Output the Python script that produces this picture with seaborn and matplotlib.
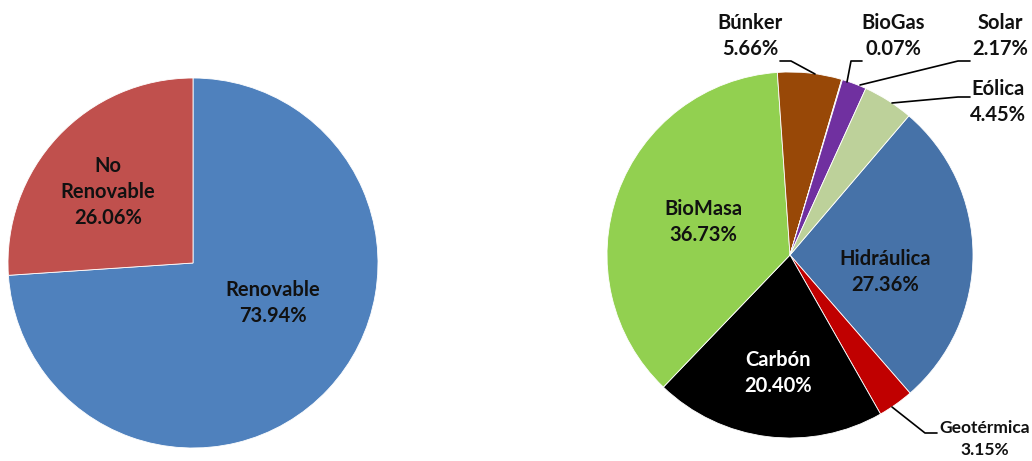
import matplotlib
matplotlib.use("Agg")
import matplotlib.pyplot as plt
import seaborn as sns

sns.set_theme(style="white")
plt.rcParams['font.family'] = ['Lato', 'DejaVu Sans']

# Left pie data
left_labels = ["Renovable", "No\nRenovable"]
left_values = [73.94, 26.06]
left_colors = ["#4F81BD", "#C0504D"]

# Right pie data (clockwise from Hidráulica)
right_labels = ["Hidráulica", "Geotérmica", "Carbón", "BioMasa", "Búnker", "BioGas", "Solar", "Eólica"]
right_values = [27.36, 3.15, 20.40, 36.73, 5.66, 0.07, 2.17, 4.45]
right_colors = ["#4672A8", "#C00000", "#000000", "#92D050", "#984807", "#8064A2", "#7030A0", "#BDD19A"]

W, H = 1032, 461
fig = plt.figure(figsize=(W / 100, H / 100), dpi=100)
fig.patch.set_facecolor("white")


def add_pie_axes(cx, cy, r):
    ax = fig.add_axes([(cx - r) / W, (H - cy - r) / H, 2 * r / W, 2 * r / H])
    return ax


def fix_axes(ax):
    ax.set_xlim(-1, 1)
    ax.set_ylim(-1, 1)
    ax.set_aspect("equal")
    ax.axis("off")


def to_data(px, py, cx, cy, r):
    return (px - cx) / r, (cy - py) / r


FS = 14.5
LS = 1.4

# ---- Left pie ----
lcx, lcy, lr = 193, 263, 185
axL = add_pie_axes(lcx, lcy, lr)
axL.pie(left_values, colors=left_colors, startangle=90, counterclock=False,
        radius=1, wedgeprops=dict(linewidth=0.6, edgecolor="white"))
fix_axes(axL)
left_pos = [(273, 303), (108, 192)]
for lab, val, (px, py) in zip(left_labels, left_values, left_pos):
    x, y = to_data(px, py, lcx, lcy, lr)
    axL.text(x, y, f"{lab}\n{val:.2f}%", ha="center", va="center",
             fontsize=FS, fontweight="bold", color="#111111", linespacing=LS)

# ---- Right pie ----
rcx, rcy, rr = 790, 255, 183
axR = add_pie_axes(rcx, rcy, rr)
axR.pie(right_values, colors=right_colors, startangle=49.5, counterclock=False,
        radius=1, wedgeprops=dict(linewidth=0.6, edgecolor="white"))
fix_axes(axR)

inside = {"Hidráulica": ((885, 272), "#111111"),
          "Carbón": ((778, 373), "white"),
          "BioMasa": ((703, 222), "#111111")}
# outside labels: text center, leader line points (pixels), font size, line spacing
outside = {
    "Búnker": ((750, 36), [(780, 61), (791, 61), (815, 74)], FS, LS),
    "BioGas": ((893, 36), [(862, 61), (851, 61), (847, 82)], FS, LS),
    "Solar": ((1000, 36), [(970, 61), (958, 61), (860, 85)], FS, LS),
    "Eólica": ((998, 102), [(970, 97), (958, 97), (892, 103)], FS, LS),
    "Geotérmica": ((985, 439), [(892, 407), (925, 433), (937, 433)], 12.5, 1.5),
}
for lab, val in zip(right_labels, right_values):
    txt = f"{lab}\n{val:.2f}%"
    if lab in inside:
        (px, py), col = inside[lab]
        x, y = to_data(px, py, rcx, rcy, rr)
        axR.text(x, y, txt, ha="center", va="center", fontsize=FS,
                 fontweight="bold", color=col, linespacing=LS, clip_on=False)
    else:
        (px, py), pts, fs, ls = outside[lab]
        x, y = to_data(px, py, rcx, rcy, rr)
        axR.text(x, y, txt, ha="center", va="center", fontsize=fs,
                 fontweight="bold", color="#111111", linespacing=ls, clip_on=False)
        xs = [to_data(a, b, rcx, rcy, rr)[0] for a, b in pts]
        ys = [to_data(a, b, rcx, rcy, rr)[1] for a, b in pts]
        axR.plot(xs, ys, color="black", linewidth=1.2, clip_on=False)

fig.savefig("out.png", dpi=100, facecolor="white")
